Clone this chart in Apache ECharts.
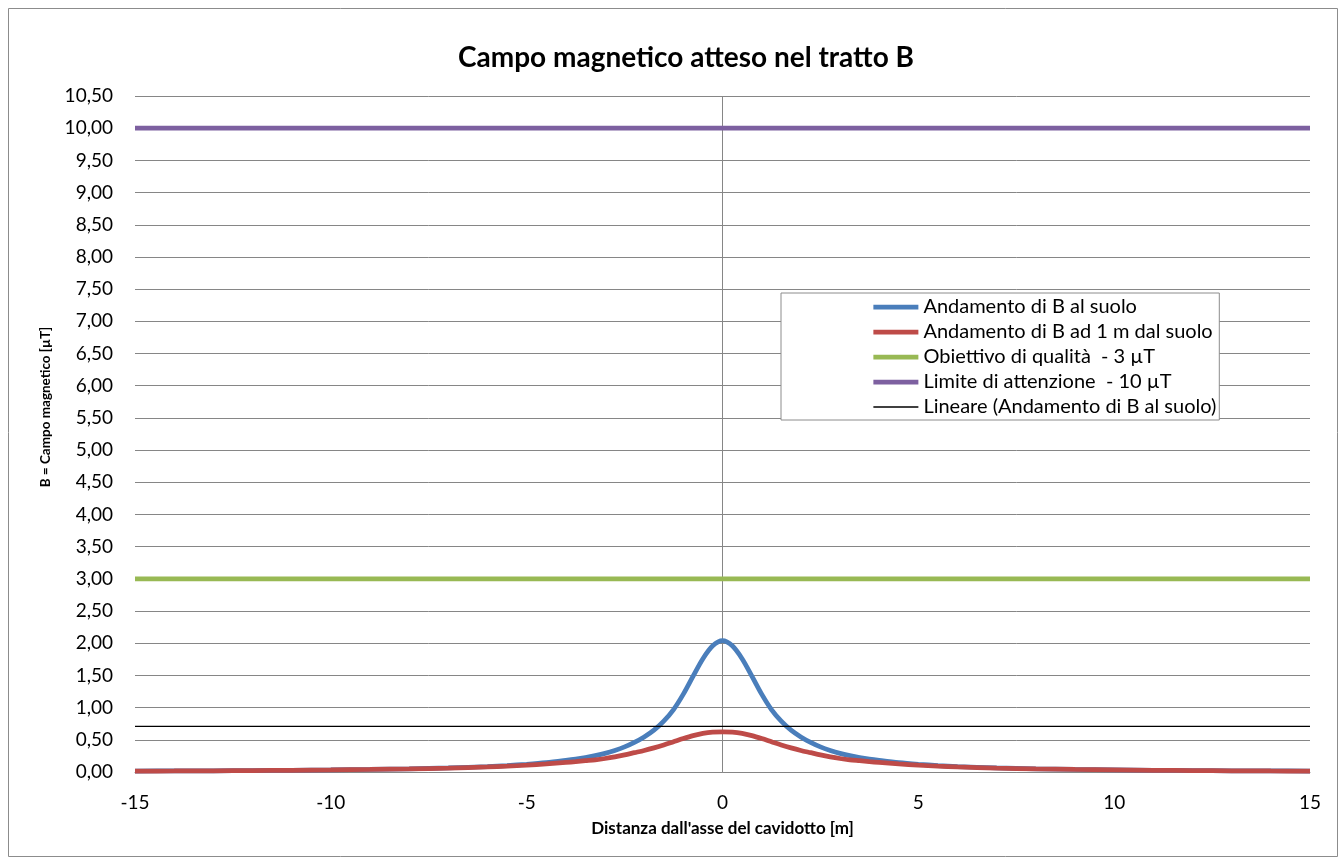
<!DOCTYPE html>
<html>
<head>
<meta charset="utf-8">
<script src="https://cdn.jsdelivr.net/npm/echarts@6/dist/echarts.min.js"></script>
<style>
html,body{margin:0;padding:0;background:#fff;}
#chart{width:1339px;height:865px;}
</style>
</head>
<body>
<div id="chart"></div>
<script>
// Distances (m) from the cable axis
const distances = [-15,-14,-13,-12,-11,-10,-9,-8,-7,-6,-5.5,-5,-4.5,-4,-3.75,-3.5,-3.25,-3,-2.75,-2.5,-2.25,-2,-1.75,-1.5,-1.25,-1,-0.75,-0.5,-0.25,
                   0,
                   0.25,0.5,0.75,1,1.25,1.5,1.75,2,2.25,2.5,2.75,3,3.25,3.5,3.75,4,4.5,5,5.5,6,7,8,9,10,11,12,13,14,15];
// B at ground level (µT)
const bSuolo = [0.015,0.017,0.019,0.023,0.027,0.033,0.04,0.05,0.064,0.085,0.10,0.12,0.145,0.18,0.20,0.225,0.255,0.29,0.335,0.39,0.46,0.545,0.65,0.79,0.97,1.21,1.49,1.76,1.96,
                2.04,
                1.96,1.76,1.49,1.21,0.97,0.79,0.65,0.545,0.46,0.39,0.335,0.29,0.255,0.225,0.20,0.18,0.145,0.12,0.10,0.085,0.064,0.05,0.04,0.033,0.027,0.023,0.019,0.017,0.015];
// B at 1 m above ground (µT)
const b1m = [0.014,0.016,0.019,0.022,0.026,0.032,0.039,0.048,0.06,0.078,0.09,0.105,0.125,0.148,0.16,0.175,0.19,0.21,0.235,0.265,0.30,0.335,0.375,0.42,0.47,0.52,0.565,0.60,0.62,
             0.625,
             0.62,0.60,0.565,0.52,0.47,0.42,0.375,0.335,0.30,0.265,0.235,0.21,0.19,0.175,0.16,0.148,0.125,0.105,0.09,0.078,0.06,0.048,0.039,0.032,0.026,0.022,0.019,0.016,0.014];
// Reference limits and linear trend (µT)
const xRange = [-15, 15];
const obiettivoQualita = 3;
const limiteAttenzione = 10;
const trendLineare = 0.71;

const names = ['Andamento di B al suolo','Andamento di B ad 1 m dal suolo','Obiettivo di qualità  - 3 µT','Limite di attenzione  - 10 µT','Lineare (Andamento di B al suolo)'];
const colors = ['#4A7EBB', '#BE4B48', '#98B954', '#7D60A0', '#000000'];
const widths = [4.75, 4.75, 4.75, 4.75, 1.3];

const zip = (xs, ys) => xs.map((x, i) => [x, ys[i]]);
const flat = v => xRange.map(x => [x, v]);

const FONT = 'Lato, "Open Sans", sans-serif';
const chart = echarts.init(document.getElementById('chart'));
chart.setOption({
  animation: false,
  backgroundColor: '#fff',
  textStyle: {fontFamily: FONT},
  title: {
    text: 'Campo magnetico atteso nel tratto B',
    left: 453, top: 39,
    textStyle: {fontFamily: FONT, fontSize: 28, fontWeight: 'bold', color: '#000'}
  },
  graphic: [{
    type: 'rect', shape: {x: 8.5, y: 8.5, width: 1329, height: 848},
    style: {fill: 'none', stroke: '#8c8c8c', lineWidth: 1}, silent: true, z: -1
  }],
  legend: {
    data: names.map((n, i) => ({name: n, lineStyle: {color: colors[i], width: widths[i]}})),
    orient: 'vertical',
    left: 781, top: 293,
    padding: [4, 3, 3, 90],
    backgroundColor: '#fff',
    borderColor: '#8c8c8c', borderWidth: 1,
    itemWidth: 45, itemHeight: 14, itemGap: 5,
    itemStyle: {opacity: 0},
    textStyle: {fontFamily: FONT, fontSize: 20, color: '#000'}
  },
  grid: {left: 135, right: 29, top: 96, bottom: 93},
  xAxis: {
    type: 'value', min: -15, max: 15, interval: 5,
    name: "Distanza dall'asse del cavidotto [m]",
    nameLocation: 'middle', nameGap: 48,
    nameTextStyle: {fontFamily: FONT, fontSize: 17, fontWeight: 'bold', color: '#000'},
    axisLine: {onZero: false, lineStyle: {color: '#868686', width: 1}},
    axisTick: {show: false},
    axisLabel: {fontSize: 19, color: '#000', margin: 21, fontFamily: FONT},
    splitLine: {show: false}
  },
  yAxis: {
    type: 'value', min: 0, max: 10.5, interval: 0.5,
    name: 'B = Campo magnetico [µT]',
    nameLocation: 'middle', nameGap: 82,
    nameTextStyle: {fontFamily: FONT, fontSize: 13.5, fontWeight: 'bold', color: '#000', padding: [0, 0, 0, 54]},
    axisLine: {show: false},
    axisTick: {show: false},
    axisLabel: {fontSize: 19, color: '#000', margin: 22, fontFamily: FONT,
      formatter: v => v.toFixed(2).replace('.', ',')},
    splitLine: {lineStyle: {color: '#868686', width: 1}}
  },
  series: [
    {name: '_asse', type: 'line', data: [[0, 0], [0, 10.5]], symbol: 'none',
      lineStyle: {color: '#868686', width: 1}, silent: true, z: 1},
    {name: names[0], type: 'line', data: zip(distances, bSuolo), smooth: 0.3, symbol: 'none',
      color: colors[0], lineStyle: {color: colors[0], width: widths[0]}, z: 3},
    {name: names[1], type: 'line', data: zip(distances, b1m), smooth: 0.3, symbol: 'none',
      color: colors[1], lineStyle: {color: colors[1], width: widths[1]}, z: 3},
    {name: names[2], type: 'line', data: flat(obiettivoQualita), symbol: 'none',
      color: colors[2], lineStyle: {color: colors[2], width: widths[2]}, z: 3},
    {name: names[3], type: 'line', data: flat(limiteAttenzione), symbol: 'none',
      color: colors[3], lineStyle: {color: colors[3], width: widths[3]}, z: 3},
    {name: names[4], type: 'line', data: flat(trendLineare), symbol: 'none',
      color: colors[4], lineStyle: {color: colors[4], width: widths[4]}, z: 3}
  ]
});
</script>
</body>
</html>
